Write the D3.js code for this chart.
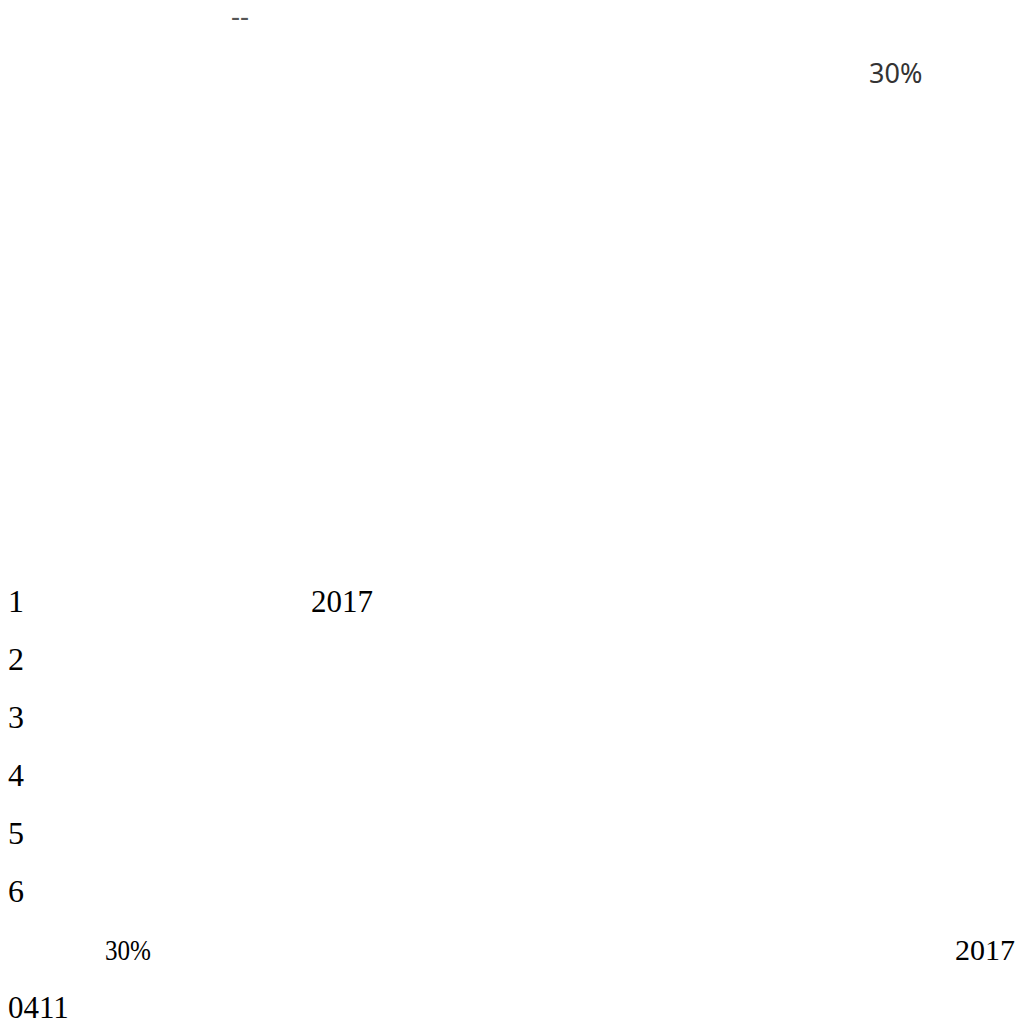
<!DOCTYPE html>
<html>
<head>
<meta charset="utf-8">
<script src="https://cdn.jsdelivr.net/npm/d3@7"></script>
<style>
  html, body { margin: 0; padding: 0; background: #fff; overflow: hidden; }
</style>
</head>
<body>
<script>
var width = 1027;
var height = 1030;

// text that survived in the page, row by row
var headerMarks = ["--"];
var headerValues = ["30%"];
var listNumbers = ["1", "2", "3", "4", "5", "6"];
var listYears = ["2017", "", "", "", "", ""];
var noteLeft = ["30%"];
var noteRight = ["2017"];
var footerCodes = ["0411"];

var svg = d3.select("body").append("svg")
      .attr("width", width)
      .attr("height", height);

// rows in the lower block
var rowKeys = d3.range(listNumbers.length + 2);
var y = d3.scalePoint().domain(rowKeys).range([612, 1018]);

// header
svg.selectAll("text.mark").data(headerMarks).enter()
  .append("text")
    .attr("class", "mark")
    .attr("x", 231)
    .attr("y", 26)
    .attr("font-family", "Noto Sans")
    .attr("font-size", 28)
    .attr("fill", "#555")
    .text(function(d) { return d; });

svg.selectAll("text.hval").data(headerValues).enter()
  .append("text")
    .attr("class", "hval")
    .attr("x", 869)
    .attr("y", 83)
    .attr("font-family", "Noto Sans")
    .attr("font-size", 27)
    .attr("fill", "#333")
    .text(function(d) { return d; });

var serif = "Liberation Serif";

var rows = svg.selectAll("g.row").data(listNumbers).enter()
  .append("g")
    .attr("class", "row")
    .attr("transform", function(d, i) { return "translate(0," + y(i) + ")"; });

rows.append("text")
    .attr("x", 8)
    .attr("font-family", serif)
    .attr("font-size", 32)
    .attr("fill", "#000")
    .text(function(d) { return d; });

rows.append("text")
    .attr("x", 311)
    .attr("font-family", serif)
    .attr("font-size", 31)
    .attr("fill", "#000")
    .text(function(d, i) { return listYears[i]; });

var noteRow = listNumbers.length;

svg.selectAll("text.noteL").data(noteLeft).enter()
  .append("text")
    .attr("class", "noteL")
    .attr("x", 105)
    .attr("y", y(noteRow))
    .attr("font-family", serif)
    .attr("font-size", 29)
    .attr("textLength", 46)
    .attr("lengthAdjust", "spacingAndGlyphs")
    .attr("fill", "#000")
    .text(function(d) { return d; });

svg.selectAll("text.noteR").data(noteRight).enter()
  .append("text")
    .attr("class", "noteR")
    .attr("x", 1015)
    .attr("y", y(noteRow))
    .attr("text-anchor", "end")
    .attr("font-family", serif)
    .attr("font-size", 30)
    .attr("fill", "#000")
    .text(function(d) { return d; });

svg.selectAll("text.code").data(footerCodes).enter()
  .append("text")
    .attr("class", "code")
    .attr("x", 8)
    .attr("y", y(noteRow + 1))
    .attr("font-family", serif)
    .attr("font-size", 31)
    .attr("fill", "#000")
    .text(function(d) { return d; });
</script>
</body>
</html>
